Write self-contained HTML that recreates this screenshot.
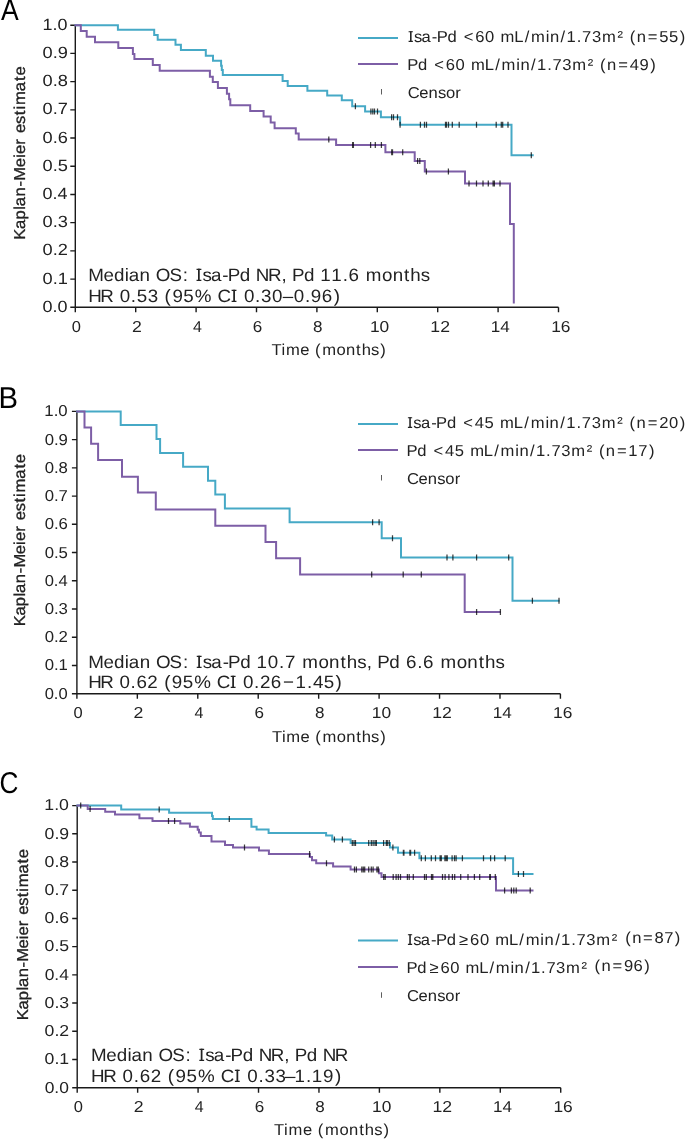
<!DOCTYPE html>
<html><head><meta charset="utf-8"><title>Kaplan-Meier estimates</title>
<style>html,body{margin:0;padding:0;background:#fff}svg{display:block;will-change:transform}text{font-family:"Liberation Sans",sans-serif;text-rendering:geometricPrecision}</style>
</head><body>
<svg width="685" height="1139" viewBox="0 0 685 1139">
<rect width="685" height="1139" fill="#fff"/>
<path d="M75.30,25.20V307.30H558.50M70.30,307.30H75.30M70.30,279.09H75.30M70.30,250.88H75.30M70.30,222.67H75.30M70.30,194.46H75.30M70.30,166.25H75.30M70.30,138.04H75.30M70.30,109.83H75.30M70.30,81.62H75.30M70.30,53.41H75.30M70.30,25.20H75.30M75.30,307.30V312.30M135.70,307.30V312.30M196.10,307.30V312.30M256.50,307.30V312.30M316.90,307.30V312.30M377.30,307.30V312.30M437.70,307.30V312.30M498.10,307.30V312.30M558.50,307.30V312.30" stroke="#1a1a1a" stroke-width="1.4" fill="none"/>
<path d="M74.60,25.20H117.90V29.80H154.20V35.10H157.70V39.80H175.50V44.70H180.90V50.00H205.80V55.80H213.00V60.70H221.10V65.80H221.80V70.10H222.80V75.00H282.60V80.90H287.70V86.00H307.40V90.70H327.20V95.60H341.80V100.30H352.20V106.20H365.10V111.50H380.90V117.30H400.10V124.80H511.50V155.20H533.70" fill="none" stroke="#46a9c6" stroke-width="2.0"/>
<path d="M74.60,25.20H80.80V30.90H86.70V36.80H95.00V42.30H118.30V48.00H132.90V53.90H134.40V59.10H152.80V65.00H159.70V70.80H209.90V76.70H212.80V82.10H217.90V88.00H226.90V93.80H229.10V99.30H230.30V105.20H250.20V110.90H263.60V116.60H270.70V122.40H274.60V128.20H295.80V133.50H298.70V139.60H336.10V145.00H385.40V152.30H414.70V161.10H424.80V171.60H465.00V183.50H510.00V224.10H513.80V303.40" fill="none" stroke="#7d5ea6" stroke-width="2.0"/>
<path d="M355.40,103.20v6.0M370.90,108.50v6.0M372.80,108.50v6.0M374.50,108.50v6.0M377.50,108.50v6.0M391.60,114.30v6.0M393.50,114.30v6.0M397.50,114.30v6.0M400.10,121.80v6.0M420.40,121.80v6.0M424.50,121.80v6.0M426.50,121.80v6.0M445.50,121.80v6.0M446.50,121.80v6.0M448.50,121.80v6.0M452.30,121.80v6.0M459.20,121.80v6.0M476.50,121.80v6.0M496.20,121.80v6.0M501.30,121.80v6.0M502.70,121.80v6.0M508.00,121.80v6.0M531.30,152.20v6.0M328.80,136.60v6.0M352.60,142.00v6.0M353.40,142.00v6.0M370.60,142.00v6.0M375.30,142.00v6.0M381.40,142.00v6.0M391.70,149.30v6.0M392.50,149.30v6.0M402.70,149.30v6.0M417.60,158.10v6.0M419.80,158.10v6.0M426.40,168.60v6.0M448.40,168.60v6.0M469.00,180.50v6.0M476.50,180.50v6.0M483.00,180.50v6.0M488.30,180.50v6.0M493.10,180.50v6.0M494.40,180.50v6.0M500.00,180.50v6.0" stroke="#000" stroke-opacity="0.75" stroke-width="1.25" fill="none"/>
<path d="M358,38.00H398" stroke="#46a9c6" stroke-width="2.0"/>
<path d="M358,64.00H398" stroke="#7d5ea6" stroke-width="2.0"/>
<path d="M381.5,89.00v5.5" stroke="#1a1a1a" stroke-width="1" fill="none" opacity="0.7"/>
<path d="M76.90,411.40V693.70H560.42M71.90,693.70H76.90M71.90,665.47H76.90M71.90,637.24H76.90M71.90,609.01H76.90M71.90,580.78H76.90M71.90,552.55H76.90M71.90,524.32H76.90M71.90,496.09H76.90M71.90,467.86H76.90M71.90,439.63H76.90M71.90,411.40H76.90M76.90,693.70V698.70M137.34,693.70V698.70M197.78,693.70V698.70M258.22,693.70V698.70M318.66,693.70V698.70M379.10,693.70V698.70M439.54,693.70V698.70M499.98,693.70V698.70M560.42,693.70V698.70" stroke="#1a1a1a" stroke-width="1.4" fill="none"/>
<path d="M76.20,411.40H120.70V425.10H156.50V439.00H160.10V452.90H183.10V466.80H208.00V480.80H215.30V494.60H224.90V508.50H289.60V522.20H381.70V538.20H401.00V557.50H512.50V600.70H559.60" fill="none" stroke="#46a9c6" stroke-width="2.0"/>
<path d="M76.20,411.40H84.50V427.40H91.10V443.80H98.10V459.90H122.00V476.70H137.90V492.60H155.80V509.60H215.30V525.80H265.50V542.00H276.10V558.30H300.10V574.40H464.70V612.10H500.70" fill="none" stroke="#7d5ea6" stroke-width="2.0"/>
<path d="M372.60,519.20v6.0M379.10,519.20v6.0M392.50,535.20v6.0M447.00,554.50v6.0M452.90,554.50v6.0M476.60,554.50v6.0M508.70,554.50v6.0M532.40,597.70v6.0M559.00,597.70v6.0M371.70,571.40v6.0M403.20,571.40v6.0M421.30,571.40v6.0M476.60,609.10v6.0M500.40,609.10v6.0" stroke="#000" stroke-opacity="0.75" stroke-width="1.25" fill="none"/>
<path d="M358,424.00H398" stroke="#46a9c6" stroke-width="2.0"/>
<path d="M358,450.00H398" stroke="#7d5ea6" stroke-width="2.0"/>
<path d="M381.5,475.00v5.5" stroke="#1a1a1a" stroke-width="1" fill="none" opacity="0.7"/>
<path d="M77.20,805.60V1087.70H560.72M72.20,1087.70H77.20M72.20,1059.49H77.20M72.20,1031.28H77.20M72.20,1003.07H77.20M72.20,974.86H77.20M72.20,946.65H77.20M72.20,918.44H77.20M72.20,890.23H77.20M72.20,862.02H77.20M72.20,833.81H77.20M72.20,805.60H77.20M77.20,1087.70V1092.70M137.64,1087.70V1092.70M198.08,1087.70V1092.70M258.52,1087.70V1092.70M318.96,1087.70V1092.70M379.40,1087.70V1092.70M439.84,1087.70V1092.70M500.28,1087.70V1092.70M560.72,1087.70V1092.70" stroke="#1a1a1a" stroke-width="1.4" fill="none"/>
<path d="M76.50,805.60H121.20V809.40H169.10V812.80H212.00V815.90H212.80V819.00H251.40V826.70H256.60V829.60H268.60V833.00H326.10V835.50H332.20V839.40H350.60V842.90H390.00V847.40H398.00V852.70H419.40V858.30H513.10V873.90H533.50" fill="none" stroke="#46a9c6" stroke-width="2.0"/>
<path d="M76.50,805.60H87.70V808.90H105.20V811.80H115.00V814.60H139.40V818.20H152.50V820.90H180.30V823.50H189.90V826.80H197.70V829.70H199.00V832.60H200.80V835.90H211.50V841.50H225.00V844.90H233.00V847.60H259.00V850.60H268.90V854.10H309.80V857.00H312.00V860.20H316.20V863.20H333.10V866.40H350.60V869.60H378.90V873.30H381.50V877.00H496.00V890.60H533.50" fill="none" stroke="#7d5ea6" stroke-width="2.0"/>
<path d="M80.70,802.60v6.0M159.20,806.40v6.0M229.30,816.00v6.0M334.40,836.40v6.0M342.40,836.40v6.0M352.30,839.90v6.0M354.00,839.90v6.0M355.50,839.90v6.0M368.70,839.90v6.0M371.30,839.90v6.0M373.10,839.90v6.0M375.00,839.90v6.0M376.40,839.90v6.0M383.60,839.90v6.0M386.30,839.90v6.0M387.30,839.90v6.0M389.20,839.90v6.0M392.90,844.40v6.0M403.40,849.70v6.0M403.90,849.70v6.0M409.90,849.70v6.0M410.60,849.70v6.0M414.60,849.70v6.0M421.30,855.30v6.0M425.40,855.30v6.0M431.30,855.30v6.0M435.50,855.30v6.0M440.10,855.30v6.0M441.30,855.30v6.0M444.90,855.30v6.0M446.20,855.30v6.0M447.30,855.30v6.0M452.10,855.30v6.0M454.50,855.30v6.0M456.10,855.30v6.0M462.40,855.30v6.0M483.50,855.30v6.0M490.60,855.30v6.0M494.60,855.30v6.0M505.20,855.30v6.0M518.40,870.90v6.0M523.50,870.90v6.0M90.10,805.90v6.0M168.50,817.90v6.0M174.60,817.90v6.0M244.50,844.60v6.0M309.60,851.10v6.0M326.50,860.20v6.0M354.50,866.60v6.0M356.40,866.60v6.0M361.80,866.60v6.0M363.30,866.60v6.0M364.70,866.60v6.0M368.70,866.60v6.0M371.30,866.60v6.0M373.10,866.60v6.0M376.90,866.60v6.0M378.30,866.60v6.0M383.70,874.00v6.0M385.20,874.00v6.0M393.20,874.00v6.0M396.10,874.00v6.0M398.30,874.00v6.0M400.50,874.00v6.0M407.40,874.00v6.0M409.20,874.00v6.0M413.30,874.00v6.0M424.50,874.00v6.0M426.30,874.00v6.0M431.50,874.00v6.0M432.80,874.00v6.0M442.50,874.00v6.0M445.10,874.00v6.0M448.90,874.00v6.0M452.40,874.00v6.0M454.70,874.00v6.0M460.70,874.00v6.0M468.00,874.00v6.0M474.40,874.00v6.0M479.70,874.00v6.0M489.70,874.00v6.0M490.40,874.00v6.0M495.30,874.00v6.0M504.60,887.60v6.0M511.40,887.60v6.0M513.80,887.60v6.0M516.20,887.60v6.0M530.20,887.60v6.0" stroke="#000" stroke-opacity="0.75" stroke-width="1.25" fill="none"/>
<path d="M358,940.50H398" stroke="#46a9c6" stroke-width="2.0"/>
<path d="M358,967.00H398" stroke="#7d5ea6" stroke-width="2.0"/>
<path d="M381.5,992.30v5.5" stroke="#1a1a1a" stroke-width="1" fill="none" opacity="0.7"/>
<path d="M408.60,31.14h4.27v1.14h-4.27zM408.60,40.86h4.27v1.14h-4.27z" fill="#222222"/>
<path d="M407.90,417.14h4.27v1.14h-4.27zM407.90,426.86h4.27v1.14h-4.27z" fill="#222222"/>
<path d="M407.90,934.14h4.27v1.14h-4.27zM407.90,943.86h4.27v1.14h-4.27z" fill="#222222"/>
<path d="M196.54,268.69h4.83v1.29h-4.83zM196.54,279.71h4.83v1.29h-4.83z" fill="#222222"/>
<path d="M231.61,289.69h4.83v1.29h-4.83zM231.61,300.71h4.83v1.29h-4.83z" fill="#222222"/>
<path d="M196.76,655.69h4.83v1.29h-4.83zM196.76,666.71h4.83v1.29h-4.83z" fill="#222222"/>
<path d="M230.72,675.69h4.83v1.29h-4.83zM230.72,686.71h4.83v1.29h-4.83z" fill="#222222"/>
<path d="M199.32,1048.69h4.83v1.29h-4.83zM199.32,1059.71h4.83v1.29h-4.83z" fill="#222222"/>
<path d="M234.89,1069.69h4.83v1.29h-4.83zM234.89,1080.71h4.83v1.29h-4.83z" fill="#222222"/>
<text x="42.54" y="311.90" font-size="16.2" fill="#222222" textLength="25.03" lengthAdjust="spacingAndGlyphs">0.0</text>
<text x="42.54" y="283.69" font-size="16.2" fill="#222222" textLength="25.32" lengthAdjust="spacingAndGlyphs">0.1</text>
<text x="42.54" y="255.48" font-size="16.2" fill="#222222" textLength="25.32" lengthAdjust="spacingAndGlyphs">0.2</text>
<text x="42.54" y="227.27" font-size="16.2" fill="#222222" textLength="25.32" lengthAdjust="spacingAndGlyphs">0.3</text>
<text x="42.54" y="199.06" font-size="16.2" fill="#222222" textLength="25.03" lengthAdjust="spacingAndGlyphs">0.4</text>
<text x="42.54" y="170.85" font-size="16.2" fill="#222222" textLength="25.32" lengthAdjust="spacingAndGlyphs">0.5</text>
<text x="42.54" y="142.64" font-size="16.2" fill="#222222" textLength="25.32" lengthAdjust="spacingAndGlyphs">0.6</text>
<text x="42.54" y="114.43" font-size="16.2" fill="#222222" textLength="25.32" lengthAdjust="spacingAndGlyphs">0.7</text>
<text x="42.54" y="86.22" font-size="16.2" fill="#222222" textLength="25.32" lengthAdjust="spacingAndGlyphs">0.8</text>
<text x="42.54" y="58.01" font-size="16.2" fill="#222222" textLength="25.32" lengthAdjust="spacingAndGlyphs">0.9</text>
<text x="42.61" y="29.80" font-size="16.2" fill="#222222" textLength="24.96" lengthAdjust="spacingAndGlyphs">1.0</text>
<text x="71.83" y="331.90" font-size="15.8" fill="#222222" textLength="9.19" lengthAdjust="spacingAndGlyphs">0</text>
<text x="131.91" y="331.90" font-size="15.8" fill="#222222" textLength="9.83" lengthAdjust="spacingAndGlyphs">2</text>
<text x="192.90" y="331.90" font-size="15.8" fill="#222222" textLength="8.91" lengthAdjust="spacingAndGlyphs">4</text>
<text x="252.74" y="331.90" font-size="15.8" fill="#222222" textLength="9.50" lengthAdjust="spacingAndGlyphs">6</text>
<text x="313.14" y="331.90" font-size="15.8" fill="#222222" textLength="9.50" lengthAdjust="spacingAndGlyphs">8</text>
<text x="369.98" y="331.90" font-size="15.8" fill="#222222" textLength="19.31" lengthAdjust="spacingAndGlyphs">10</text>
<text x="430.35" y="331.90" font-size="15.8" fill="#222222" textLength="19.62" lengthAdjust="spacingAndGlyphs">12</text>
<text x="490.80" y="331.90" font-size="15.8" fill="#222222" textLength="19.01" lengthAdjust="spacingAndGlyphs">14</text>
<text x="551.18" y="331.90" font-size="15.8" fill="#222222" textLength="19.31" lengthAdjust="spacingAndGlyphs">16</text>
<text x="44.68" y="698.70" font-size="15.8" fill="#222222" textLength="23.01" lengthAdjust="spacingAndGlyphs">0.0</text>
<text x="44.67" y="670.47" font-size="15.8" fill="#222222" textLength="23.29" lengthAdjust="spacingAndGlyphs">0.1</text>
<text x="44.67" y="642.24" font-size="15.8" fill="#222222" textLength="23.29" lengthAdjust="spacingAndGlyphs">0.2</text>
<text x="44.67" y="614.01" font-size="15.8" fill="#222222" textLength="23.29" lengthAdjust="spacingAndGlyphs">0.3</text>
<text x="44.68" y="585.78" font-size="15.8" fill="#222222" textLength="23.01" lengthAdjust="spacingAndGlyphs">0.4</text>
<text x="44.67" y="557.55" font-size="15.8" fill="#222222" textLength="23.29" lengthAdjust="spacingAndGlyphs">0.5</text>
<text x="44.67" y="529.32" font-size="15.8" fill="#222222" textLength="23.29" lengthAdjust="spacingAndGlyphs">0.6</text>
<text x="44.67" y="501.09" font-size="15.8" fill="#222222" textLength="23.29" lengthAdjust="spacingAndGlyphs">0.7</text>
<text x="44.67" y="472.86" font-size="15.8" fill="#222222" textLength="23.29" lengthAdjust="spacingAndGlyphs">0.8</text>
<text x="44.67" y="444.63" font-size="15.8" fill="#222222" textLength="23.29" lengthAdjust="spacingAndGlyphs">0.9</text>
<text x="44.37" y="416.40" font-size="15.8" fill="#222222" textLength="23.32" lengthAdjust="spacingAndGlyphs">1.0</text>
<text x="73.43" y="718.30" font-size="15.8" fill="#222222" textLength="9.19" lengthAdjust="spacingAndGlyphs">0</text>
<text x="133.55" y="718.30" font-size="15.8" fill="#222222" textLength="9.83" lengthAdjust="spacingAndGlyphs">2</text>
<text x="194.58" y="718.30" font-size="15.8" fill="#222222" textLength="8.91" lengthAdjust="spacingAndGlyphs">4</text>
<text x="254.46" y="718.30" font-size="15.8" fill="#222222" textLength="9.50" lengthAdjust="spacingAndGlyphs">6</text>
<text x="314.90" y="718.30" font-size="15.8" fill="#222222" textLength="9.50" lengthAdjust="spacingAndGlyphs">8</text>
<text x="371.78" y="718.30" font-size="15.8" fill="#222222" textLength="19.31" lengthAdjust="spacingAndGlyphs">10</text>
<text x="432.19" y="718.30" font-size="15.8" fill="#222222" textLength="19.62" lengthAdjust="spacingAndGlyphs">12</text>
<text x="492.68" y="718.30" font-size="15.8" fill="#222222" textLength="19.01" lengthAdjust="spacingAndGlyphs">14</text>
<text x="553.10" y="718.30" font-size="15.8" fill="#222222" textLength="19.31" lengthAdjust="spacingAndGlyphs">16</text>
<text x="44.65" y="1092.50" font-size="15.8" fill="#222222" textLength="24.27" lengthAdjust="spacingAndGlyphs">0.0</text>
<text x="44.64" y="1064.29" font-size="15.8" fill="#222222" textLength="24.56" lengthAdjust="spacingAndGlyphs">0.1</text>
<text x="44.64" y="1036.08" font-size="15.8" fill="#222222" textLength="24.56" lengthAdjust="spacingAndGlyphs">0.2</text>
<text x="44.64" y="1007.87" font-size="15.8" fill="#222222" textLength="24.56" lengthAdjust="spacingAndGlyphs">0.3</text>
<text x="44.65" y="979.66" font-size="15.8" fill="#222222" textLength="24.27" lengthAdjust="spacingAndGlyphs">0.4</text>
<text x="44.64" y="951.45" font-size="15.8" fill="#222222" textLength="24.56" lengthAdjust="spacingAndGlyphs">0.5</text>
<text x="44.64" y="923.24" font-size="15.8" fill="#222222" textLength="24.56" lengthAdjust="spacingAndGlyphs">0.6</text>
<text x="44.64" y="895.03" font-size="15.8" fill="#222222" textLength="24.56" lengthAdjust="spacingAndGlyphs">0.7</text>
<text x="44.64" y="866.82" font-size="15.8" fill="#222222" textLength="24.56" lengthAdjust="spacingAndGlyphs">0.8</text>
<text x="44.64" y="838.61" font-size="15.8" fill="#222222" textLength="24.56" lengthAdjust="spacingAndGlyphs">0.9</text>
<text x="44.30" y="810.40" font-size="15.8" fill="#222222" textLength="24.63" lengthAdjust="spacingAndGlyphs">1.0</text>
<text x="73.73" y="1112.30" font-size="15.8" fill="#222222" textLength="9.19" lengthAdjust="spacingAndGlyphs">0</text>
<text x="133.85" y="1112.30" font-size="15.8" fill="#222222" textLength="9.83" lengthAdjust="spacingAndGlyphs">2</text>
<text x="194.88" y="1112.30" font-size="15.8" fill="#222222" textLength="8.91" lengthAdjust="spacingAndGlyphs">4</text>
<text x="254.76" y="1112.30" font-size="15.8" fill="#222222" textLength="9.50" lengthAdjust="spacingAndGlyphs">6</text>
<text x="315.20" y="1112.30" font-size="15.8" fill="#222222" textLength="9.50" lengthAdjust="spacingAndGlyphs">8</text>
<text x="372.08" y="1112.30" font-size="15.8" fill="#222222" textLength="19.31" lengthAdjust="spacingAndGlyphs">10</text>
<text x="432.49" y="1112.30" font-size="15.8" fill="#222222" textLength="19.62" lengthAdjust="spacingAndGlyphs">12</text>
<text x="492.98" y="1112.30" font-size="15.8" fill="#222222" textLength="19.01" lengthAdjust="spacingAndGlyphs">14</text>
<text x="553.40" y="1112.30" font-size="15.8" fill="#222222" textLength="19.31" lengthAdjust="spacingAndGlyphs">16</text>
<g fill="#000" font-size="30"><text x="0.90" y="19.60" textLength="17.71" lengthAdjust="spacingAndGlyphs">A</text></g>
<g fill="#000" font-size="30"><text x="-1.44" y="407.60" textLength="19.52" lengthAdjust="spacingAndGlyphs">B</text></g>
<g fill="#000" font-size="30"><text x="-0.41" y="792.60" textLength="18.93" lengthAdjust="spacingAndGlyphs">C</text></g>
<text transform="translate(24.90,238.80) rotate(-90) scale(1.05,1)" x="-1.01 9.23 18.30 27.64 31.04 40.34 49.86 55.33 68.15 77.10 80.81 89.60 100.81 109.43 117.72 123.09 127.33 140.64 150.35 155.44" y="0" font-size="15.8" fill="#222222" stroke="#222222" stroke-width="0.3">Kaplan-Meierestimate</text>
<text transform="translate(25.00,625.20) rotate(-90) scale(1.05,1)" x="-1.01 9.16 18.16 27.44 30.79 40.02 49.48 54.87 67.60 76.51 80.16 88.90 100.01 108.56 116.80 122.13 126.30 139.51 149.17 154.20" y="0" font-size="15.8" fill="#222222" stroke="#222222" stroke-width="0.3">Kaplan-Meierestimate</text>
<text transform="translate(28.00,1019.10) rotate(-90) scale(1.05,1)" x="-1.01 9.11 18.04 27.29 30.60 39.77 49.18 54.52 67.19 76.06 79.67 88.36 99.39 107.90 116.09 121.39 125.50 138.65 148.26 153.25" y="0" font-size="15.8" fill="#222222" stroke="#222222" stroke-width="0.3">Kaplan-Meierestimate</text>
<text transform="scale(1.05,1)" x="258.50 268.05 272.29 285.91 299.97 306.84 320.53 329.54 339.16 344.47 353.40 362.19" y="355.30" font-size="15.8" fill="#222222">Time(months)</text>
<text transform="scale(1.05,1)" x="258.98 268.50 272.69 286.26 300.26 307.08 320.72 329.68 339.27 344.54 353.44 362.19" y="741.70" font-size="15.8" fill="#222222">Time(months)</text>
<text transform="scale(1.05,1)" x="260.88 270.47 274.77 288.47 302.61 309.55 323.32 332.39 342.06 347.41 356.41 365.24" y="1135.00" font-size="15.8" fill="#222222">Time(months)</text>
<text transform="scale(1.05,1)" x="388.98 394.19 401.56 411.21 415.92 426.19 441.64 452.61 461.98 476.73 489.74 499.73 505.80 519.76 523.75 533.93 539.50 549.23 554.35 563.72 573.27 588.00 599.71 606.34 616.91 627.94 637.26 647.43" y="42.40" font-size="15.8" fill="#222222">Isa-Pd&lt;60mL/min/1.73m²(n=55)</text>
<text transform="scale(1.05,1)" x="387.85 398.11 413.56 424.52 433.88 448.62 461.63 471.62 477.67 491.64 495.62 505.79 511.36 521.09 526.21 535.57 545.11 559.84 571.54 578.17 588.74 599.79 609.06 619.24" y="70.20" font-size="15.8" fill="#222222">Pd&lt;60mL/min/1.73m²(n=49)</text>
<text transform="scale(1.05,1)" x="388.34 399.20 408.13 417.05 424.76 433.67" y="98.00" font-size="15.8" fill="#222222">Censor</text>
<text transform="scale(1.05,1)" x="388.31 393.54 400.93 410.61 415.33 425.62 441.12 452.22 461.52 476.30 489.34 499.35 505.44 519.43 523.44 533.63 539.22 548.98 554.12 563.51 573.09 587.85 599.59 606.24 616.84 627.88 637.22 647.43" y="428.00" font-size="15.8" fill="#222222">Isa-Pd&lt;45mL/min/1.73m²(n=20)</text>
<text transform="scale(1.05,1)" x="387.18 397.42 412.83 423.87 433.12 447.80 460.78 470.75 476.78 490.72 494.69 504.84 510.38 520.10 525.20 534.54 544.05 558.75 570.42 577.03 587.57 598.33 607.83 618.00" y="456.20" font-size="15.8" fill="#222222">Pd&lt;45mL/min/1.73m²(n=17)</text>
<text transform="scale(1.05,1)" x="387.67 398.53 407.46 416.39 424.10 433.00" y="484.20" font-size="15.8" fill="#222222">Censor</text>
<text transform="scale(1.05,1)" x="388.31 393.49 400.83 410.46 415.13 425.36 437.07 447.71 457.04 471.72 484.69 494.65 500.67 514.60 518.57 528.71 534.24 543.95 549.04 558.37 567.87 582.56" y="945.20" font-size="15.8" fill="#222222">Isa-Pd≥60mL/min/1.73m²</text>
<text transform="scale(1.05,1)" x="595.50 602.04 612.48 623.37 632.57 642.67" y="942.70" font-size="15.8" fill="#222222">(n=87)</text>
<text transform="scale(1.05,1)" x="387.18 397.36 409.00 419.59 428.87 443.45 456.36 466.28 472.25 486.12 490.05 500.15 505.64 515.31 520.36 529.64 539.07 553.71" y="973.00" font-size="15.8" fill="#222222">Pd≥60mL/min/1.73m²</text>
<text transform="scale(1.05,1)" x="566.26 572.81 583.28 594.19 603.36 613.53" y="970.50" font-size="15.8" fill="#222222">(n=96)</text>
<text transform="scale(1.05,1)" x="387.67 398.53 407.46 416.39 424.10 433.00" y="1000.70" font-size="15.8" fill="#222222">Censor</text>
<text transform="scale(1.05,1)" x="84.06 98.47 108.61 118.73 122.50 132.94 148.32 161.33 174.10 186.99 192.77 200.97 211.78 216.98 228.45 243.70 255.18 268.13 278.03 289.50 305.08 315.47 326.37 331.98 348.45 363.83 373.95 384.77 390.71 400.74" y="280.90" font-size="17.9" fill="#222222">MedianOS:Isa-PdNR,Pd11.6months</text>
<text transform="scale(1.05,1)" x="84.06 95.56 113.97 124.62 130.30 140.72 156.79 164.20 174.59 185.57 207.17 220.39 232.27 242.92 248.64 258.97 269.35 279.72 290.37 296.05 306.36 317.82" y="301.50" font-size="17.9" fill="#222222">HR0.53(95%CI0.30–0.96)</text>
<text transform="scale(1.05,1)" x="84.06 98.49 108.65 118.79 122.57 133.04 148.46 161.49 174.28 187.20 193.00 201.22 212.04 217.26 228.75 244.37 255.02 265.70 271.38 287.83 303.25 313.38 324.23 330.18 340.24 349.39 359.32 370.81 386.61 397.35 402.98 419.48 434.90 445.03 455.88 461.83 471.89" y="667.60" font-size="17.9" fill="#222222">MedianOS:Isa-Pd10.7months,Pd6.6months</text>
<text transform="scale(1.05,1)" x="84.06 95.48 113.78 124.38 129.94 140.31 156.35 163.70 174.02 184.91 206.38 219.55 231.33 241.93 247.54 257.79 269.55 281.52 292.36 298.03 308.30 319.63" y="688.10" font-size="17.9" fill="#222222">HR0.62(95%CI0.26−1.45)</text>
<text transform="scale(1.05,1)" x="86.72 101.13 111.27 121.39 125.16 135.60 150.97 163.98 176.75 189.64 195.42 203.62 214.42 219.62 231.09 246.34 257.82 270.76 280.66 292.13 307.38 318.86" y="1061.00" font-size="17.9" fill="#222222">MedianOS:Isa-PdNR,PdNR</text>
<text transform="scale(1.05,1)" x="86.72 98.26 116.73 127.41 133.04 143.52 159.70 167.14 177.57 188.59 210.26 223.52 235.44 246.12 251.87 262.28 271.54 280.59 291.52 296.97 307.63 319.05" y="1081.60" font-size="17.9" fill="#222222">HR0.62(95%CI0.33–1.19)</text>
</svg>
</body></html>
